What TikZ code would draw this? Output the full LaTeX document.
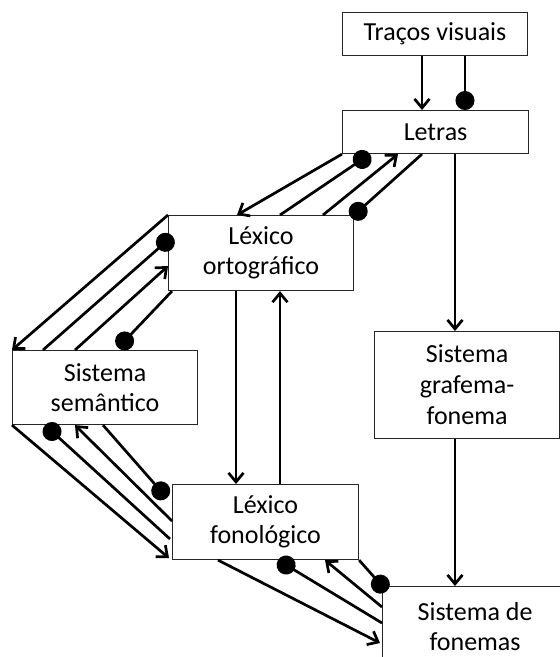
\documentclass[tikz,border=0pt]{standalone}
\usepackage{fontspec}
\setmainfont{Carlito}
\usetikzlibrary{arrows.meta,calc}
\begin{document}
\begin{tikzpicture}[x=1pt,y=-1pt,
  box/.style={draw=black!85, line width=1.1pt, anchor=north west, align=center, inner sep=0pt, font=\fontsize{26}{30}\selectfont},
  conn/.style={line width=2.7pt},
  arr/.style={conn,-{Straight Barb[length=9pt,width=15pt]}},
  dotc/.style={conn,-{Circle[length=19pt]}}]
\clip (0,0) rectangle (560,657);
\node[box, minimum width=185pt, minimum height=43pt] (tv) at (342,12) {Traços visuais};
\node[box, minimum width=186pt, minimum height=43pt] (letras) at (342,110) {Letras};
\node[box, minimum width=185pt, minimum height=75pt] (lo) at (168,215) {Léxico\\ortográfico};
\node[box, minimum width=185pt, minimum height=74pt] (ss) at (12,350) {Sistema\\semântico};
\node[box, minimum width=185pt, minimum height=107pt, font=\fontsize{26}{31}\selectfont] (gf) at (374,331) {Sistema\\grafema-\\fonema};
\node[box, minimum width=186pt, minimum height=75pt] (lf) at (172,484) {Léxico\\fonológico};
\node[box, minimum width=185pt, minimum height=80pt] (sf) at (382,586) {Sistema de\\fonemas};
% tv - letras
\draw[arr] ($(tv.south west)+(80,0)$) -- ($(letras.north west)+(80,0)$);
\draw[dotc] ($(tv.south west)+(123,0)$) -- ($(letras.north west)+(123,0)$);
% letras - lo
\draw[arr] (letras.south west) -- ($(lo.north west)+(69,0)$);
\draw[dotc] ($(lo.north west)+(112,0)$) -- ($(letras.south west)+(28,0)$);
\draw[arr] ($(lo.north west)+(155,0)$) -- ($(letras.south west)+(56,0)$);
\draw[dotc, shorten >=-4pt] ($(letras.south west)+(80,0)$) -- (lo.north east);
% lo - ss
\draw[arr] (lo.north west) -- (ss.north west);
\draw[dotc, shorten >=-6pt] ($(ss.north west)+(31,0)$) -- ($(lo.north west)+(0,25)$);
\draw[arr] ($(ss.north west)+(63,0)$) -- ($(lo.north west)+(0,51)$);
\draw[dotc, shorten >=3pt] ($(lo.south west)+(4,0)$) -- ($(ss.north west)+(104,0)$);
% ss - lf
\draw[arr] (ss.south west) -- ($(lf.south west)+(-3,-2)$);
\draw[dotc] ($(lf.north west)+(-2,55)$) -- ($(ss.south west)+(33,0)$);
\draw[arr] ($(lf.north west)+(0,37)$) -- ($(ss.south west)+(63,0)$);
\draw[dotc] ($(ss.south west)+(91,0)$) -- ($(lf.north west)+(-5,14)$);
% lo - lf
\draw[arr] ($(lo.south west)+(68,0)$) -- ($(lf.north west)+(64,0)$);
\draw[arr] ($(lf.north west)+(108,0)$) -- ($(lo.south west)+(112,0)$);
% letras - gf - sf
\draw[arr] ($(letras.south west)+(113,0)$) -- ($(gf.north west)+(81,0)$);
\draw[arr] ($(gf.south west)+(81,0)$) -- ($(sf.north west)+(73,0)$);
% lf - sf
\draw[arr] ($(lf.south west)+(46,0)$) -- ($(sf.north west)+(-2,57)$);
\draw[dotc] ($(sf.north west)+(0,37)$) -- ($(lf.south west)+(106,0)$);
\draw[arr] ($(sf.north west)+(0,21)$) -- ($(lf.south west)+(153,0)$);
\draw[dotc, shorten >=-7pt] (lf.south east) -- (sf.north west);
\end{tikzpicture}
\end{document}
